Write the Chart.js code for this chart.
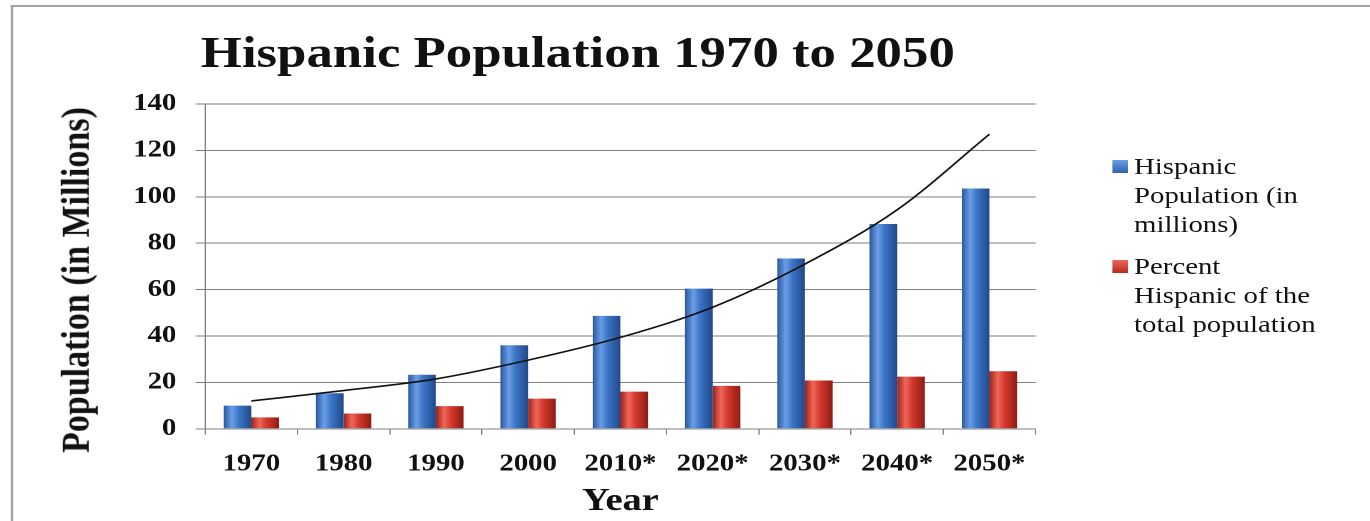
<!DOCTYPE html>
<html>
<head>
  <title>Hispanic Population 1970 to 2050</title>
  <script src="https://cdn.jsdelivr.net/npm/chart.js"></script>
<style>
body {
  margin: 0;
  background: #ffffff;
  overflow: hidden;
  font-family: 'Liberation Serif', 'Times New Roman', serif;
}

/* the reference is stretched sideways, so the whole drawing is laid out narrow and scaled */
#wrap {
  position: absolute;
  left: 0;
  top: 0;
  width: 1142px;
  height: 521px;
  transform: scaleX(1.2);
  transform-origin: 0 0;
}

#frame {
  position: absolute;
  left: 9px;
  top: 5px;
  width: 1400px;
  height: 800px;
  border-left: 2px solid #a3a3a3;
  border-top: 2px solid #a3a3a3;
}

#chart {
  position: absolute;
  left: 0;
  top: 0;
}

#title {
  position: absolute;
  left: 0;
  top: 27px;
  width: 963px;
  text-align: center;
  font-weight: bold;
  font-size: 44px;
  line-height: 52px;
  color: #111;
}

#ytitle {
  position: absolute;
  left: 63px;
  top: 280px;
  transform: translate(-50%, -50%) rotate(-90deg);
  white-space: nowrap;
  font-weight: bold;
  font-size: 34px;
  line-height: 34px;
  color: #111;
}

.entry {
  position: absolute;
  left: 927px;
  font-size: 24px;
  line-height: 29px;
  color: #111;
}

.entry .box {
  position: absolute;
  left: 0;
  top: 8px;
  width: 13px;
  height: 13px;
}

.entry .text {
  margin-left: 18px;
}
</style>
</head>
<body>

<div id="wrap">
  <div id="frame"></div>
  <canvas id="chart" width="900" height="521"></canvas>
  <div id="title">Hispanic Population 1970 to 2050</div>
  <div id="ytitle">Population (in Millions)</div>
  <div class="entry" style="top:152px">
    <div class="box" style="background:linear-gradient(#6a9ee6,#2f62b0)"></div>
    <div class="text">Hispanic<br>Population (in<br>millions)</div>
  </div>
  <div class="entry" style="top:252px">
    <div class="box" style="background:linear-gradient(#f0675a,#b62a20)"></div>
    <div class="text">Percent<br>Hispanic of the<br>total population</div>
  </div>
</div>

<script>
  const years = ['1970', '1980', '1990', '2000', '2010*', '2020*', '2030*', '2040*', '2050*'];
  const hispanicPop = [10, 15.3, 23.3, 36, 48.7, 60.4, 73.4, 88.3, 103.6];
  const percentHispanic = [4.9, 6.6, 9.8, 13, 16, 18.5, 20.8, 22.5, 24.8];
  const trend = [12, 16.5, 21.5, 29.6, 39.4, 52.4, 71, 94.4, 127];

  const serif = "'Liberation Serif', 'Times New Roman', serif";

  // cylinder-like shading across each bar
  function shade(colors) {
    return function (c) {
      const chart = c.chart;
      const xs = chart.scales.x;
      if (!xs || !chart.chartArea || c.dataIndex === undefined) return colors[2];
      const step = xs.getPixelForValue(1) - xs.getPixelForValue(0);
      const barW = step * 0.6 / 2;
      const left = xs.getPixelForValue(c.dataIndex) - step * 0.3 + c.datasetIndex * barW;
      const g = chart.ctx.createLinearGradient(left, 0, left + barW, 0);
      g.addColorStop(0, colors[0]);
      g.addColorStop(0.3, colors[1]);
      g.addColorStop(0.55, colors[2]);
      g.addColorStop(1, colors[3]);
      return g;
    };
  }

  const ctx = document.getElementById('chart').getContext('2d');
  new Chart(ctx, {
    type: 'bar',
    data: {
      labels: years,
      datasets: [
        {
          label: 'Hispanic Population (in millions)',
          data: hispanicPop,
          backgroundColor: shade(['#2a58a0', '#6a9ee6', '#3b74c6', '#21498a']),
          borderWidth: 0,
          categoryPercentage: 0.6,
          barPercentage: 1.0,
          order: 1
        },
        {
          label: 'Percent Hispanic of the total population',
          data: percentHispanic,
          backgroundColor: shade(['#9a231b', '#f0675a', '#d4382c', '#8e1d15']),
          borderWidth: 0,
          categoryPercentage: 0.6,
          barPercentage: 1.0,
          order: 1
        },
        {
          type: 'line',
          label: 'Trend',
          data: trend,
          borderColor: '#111111',
          borderWidth: 1.6,
          fill: false,
          pointRadius: 0,
          cubicInterpolationMode: 'monotone',
          order: 0
        }
      ]
    },
    options: {
      responsive: false,
      animation: false,
      devicePixelRatio: 2,
      layout: {
        padding: { top: 104, right: 37, bottom: 0, left: 95 }
      },
      plugins: {
        legend: { display: false },
        title: { display: false },
        tooltip: { enabled: false }
      },
      scales: {
        x: {
          grid: {
            drawOnChartArea: false,
            drawTicks: true,
            tickLength: 6,
            color: '#7f7f7f'
          },
          border: { display: true, color: '#7f7f7f' },
          ticks: {
            color: '#111',
            padding: 15,
            font: { family: serif, size: 24, weight: 'bold' }
          },
          title: {
            display: true,
            text: 'Year',
            color: '#111',
            padding: { top: -11, bottom: 0 },
            font: { family: serif, size: 32, weight: 'bold' }
          }
        },
        y: {
          min: 0,
          max: 140,
          ticks: {
            stepSize: 20,
            color: '#111',
            padding: 16,
            font: { family: serif, size: 24, weight: 'bold' }
          },
          grid: {
            color: '#7f7f7f',
            lineWidth: 1,
            tickLength: 8
          },
          border: { display: true, color: '#7f7f7f' }
        }
      }
    }
  });
</script>

</body>
</html>
